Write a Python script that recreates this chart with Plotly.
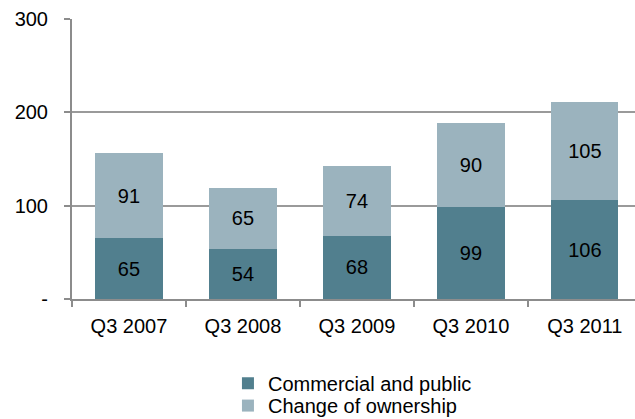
import plotly.graph_objects as go

quarters = ["Q3 2007", "Q3 2008", "Q3 2009", "Q3 2010", "Q3 2011"]
commercial = [65, 54, 68, 99, 106]
ownership = [91, 65, 74, 90, 105]
y_ticks = [0, 100, 200, 300]
y_labels = ["-", "100", "200", "300"]

dark = "rgb(81,127,142)"
light = "rgb(155,179,190)"
font = dict(family="Arial, Liberation Sans, sans-serif", size=20, color="black")

fig = go.Figure()
fig.add_trace(go.Bar(
    x=quarters, y=commercial, name="Commercial and public",
    marker=dict(color=dark, line=dict(width=0)),
    text=commercial, textposition="inside", insidetextanchor="middle",
    textangle=0, textfont=font, hoverinfo="skip", legend="legend",
))
fig.add_trace(go.Bar(
    x=quarters, y=ownership, name="Change of ownership",
    marker=dict(color=light, line=dict(width=0)),
    text=ownership, textposition="inside", insidetextanchor="middle",
    textangle=0, textfont=font, hoverinfo="skip", legend="legend2",
))

legend_style = dict(
    orientation="v", xanchor="left", yanchor="top",
    font=font, itemwidth=30, bgcolor="rgba(0,0,0,0)",
)

fig.update_layout(
    width=635, height=419,
    margin=dict(l=72, r=0, t=19, b=120, autoexpand=False),
    barmode="stack", bargap=0.41,
    plot_bgcolor="white", paper_bgcolor="white",
    font=font,
    showlegend=True,
    legend=dict(x=0.277, y=-0.231, **legend_style),
    legend2=dict(x=0.277, y=-0.311, **legend_style),
)
fig.update_xaxes(
    range=[-0.5, 4.44], showgrid=False,
    showline=True, linecolor="#8c8c8c", linewidth=2,
    ticks="outside", tickson="boundaries", ticklen=6,
    tickcolor="#8c8c8c", tickwidth=2, tickfont=font, tickangle=0,
    ticklabelstandoff=8,
)
fig.update_yaxes(
    range=[0, 300], tickvals=y_ticks, ticktext=y_labels,
    showgrid=True, gridcolor="#9a9a9a", gridwidth=2,
    showline=True, linecolor="#8c8c8c", linewidth=2,
    ticks="outside", ticklen=6, tickcolor="#8c8c8c", tickwidth=2,
    tickfont=font, ticklabelstandoff=12, zeroline=False,
)

fig.write_html("out.html")
